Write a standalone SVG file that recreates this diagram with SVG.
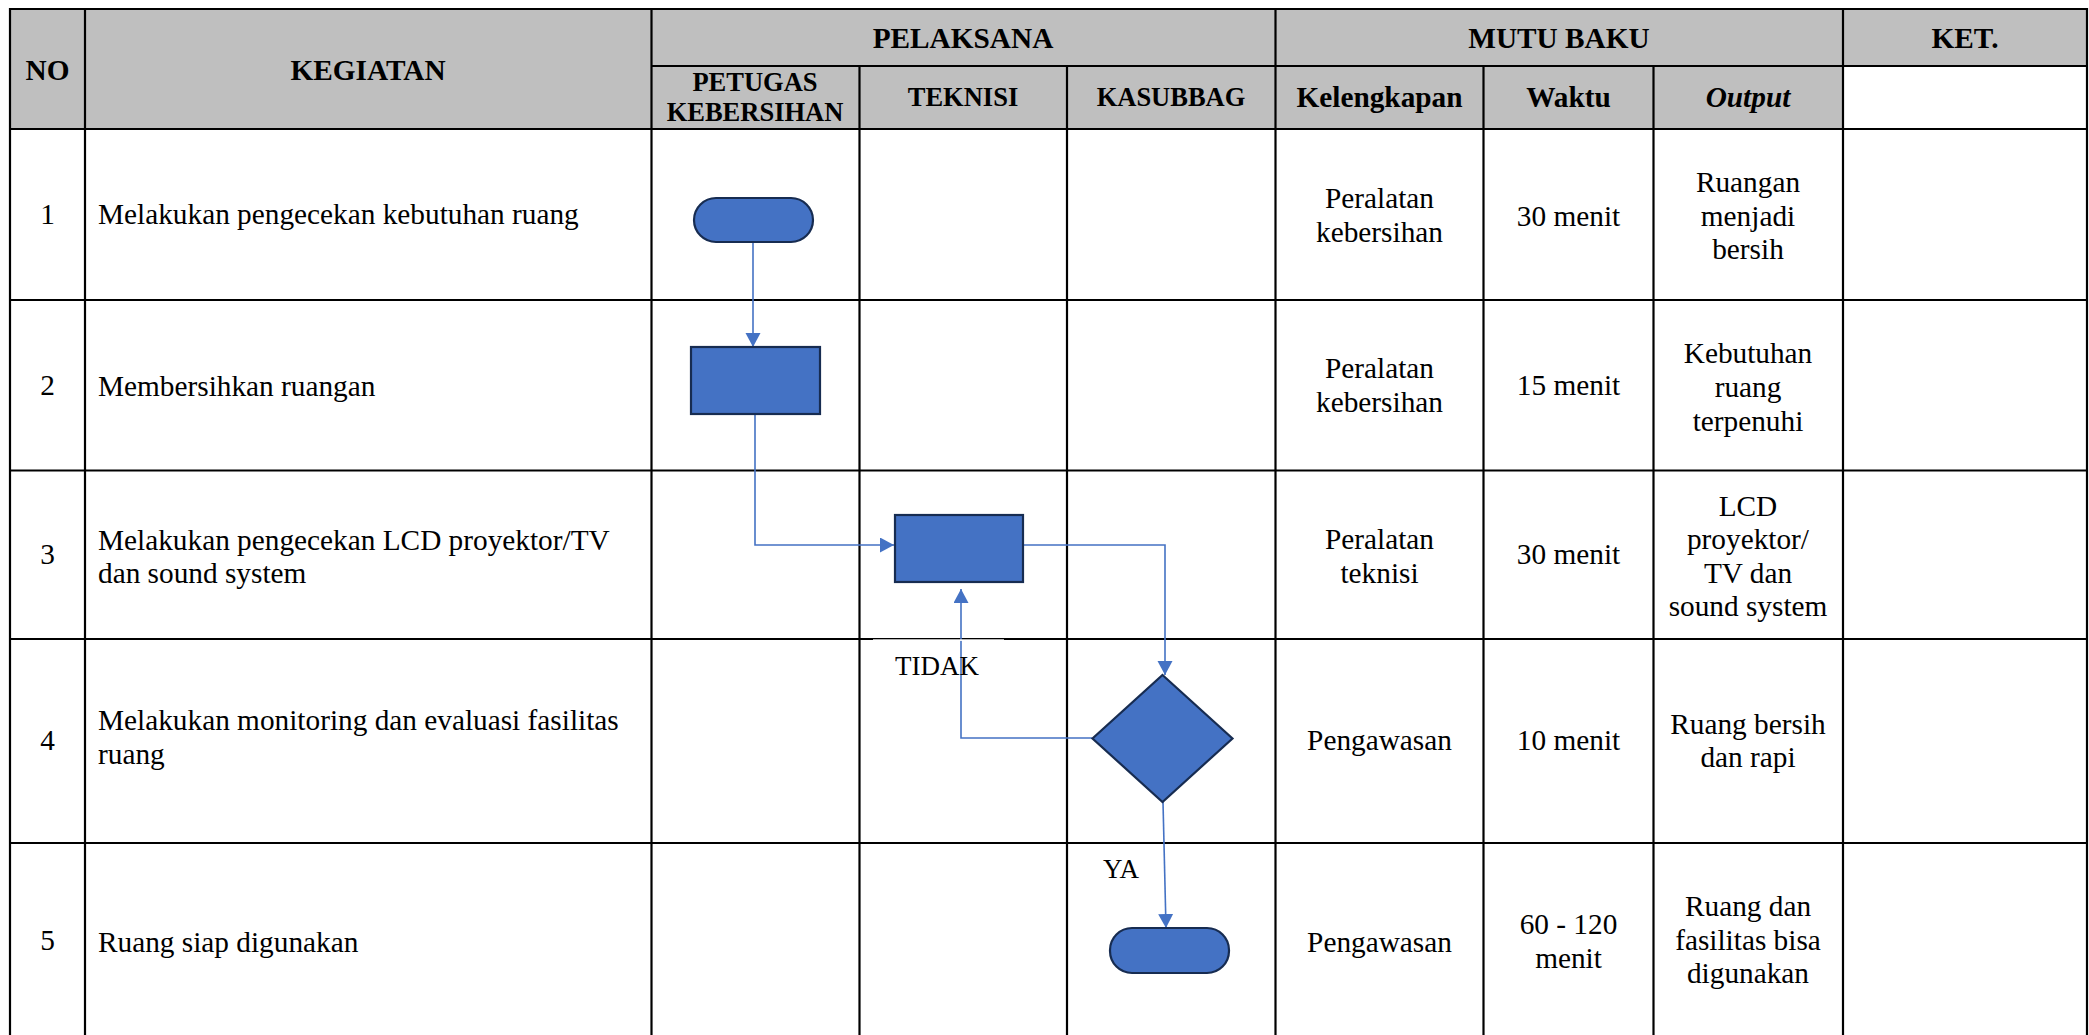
<svg xmlns="http://www.w3.org/2000/svg" width="2089" height="1035" viewBox="0 0 2089 1035">
<defs>
<style>
.t{font-family:"Liberation Serif","Times New Roman",serif;font-size:29.3px;fill:#000}
.s{font-family:"Liberation Serif","Times New Roman",serif;font-size:27px;fill:#000}
.h{font-family:"Liberation Serif","Times New Roman",serif;font-size:29.3px;font-weight:bold;fill:#000}
.h2{font-family:"Liberation Serif","Times New Roman",serif;font-size:26.5px;font-weight:bold;fill:#000}
.c{text-anchor:middle}
.grid line{stroke:#000;stroke-width:2.2}
.shape{fill:#4472C4;stroke:#172C51;stroke-width:2.2}
.conn{fill:none;stroke:#4472C4;stroke-width:1.6}
</style>
<marker id="ah" markerUnits="userSpaceOnUse" markerWidth="15" markerHeight="16" refX="14" refY="7.5" orient="auto">
<path d="M0,0 L14,7.5 L0,15 Z" fill="#4472C4"/>
</marker>
</defs>
<rect width="2089" height="1035" fill="#fff"/>
<g id="header-bg">
<rect x="10" y="9" width="1833" height="120" fill="#BFBFBF"/>
<rect x="1843" y="9" width="244" height="57" fill="#BFBFBF"/>
</g>
<g class="grid" id="grid">
<line x1="9" y1="9" x2="2088" y2="9"/>
<line x1="651.5" y1="66" x2="2088" y2="66"/>
<line x1="9" y1="129" x2="2088" y2="129"/>
<line x1="9" y1="300" x2="2088" y2="300"/>
<line x1="9" y1="470.5" x2="2088" y2="470.5"/>
<line x1="9" y1="639" x2="2088" y2="639"/>
<line x1="9" y1="843" x2="2088" y2="843"/>
<line x1="10" y1="8" x2="10" y2="1035"/>
<line x1="85" y1="8" x2="85" y2="1035"/>
<line x1="651.5" y1="8" x2="651.5" y2="1035"/>
<line x1="859.5" y1="66" x2="859.5" y2="1035"/>
<line x1="1067" y1="66" x2="1067" y2="1035"/>
<line x1="1275.5" y1="8" x2="1275.5" y2="1035"/>
<line x1="1483.5" y1="66" x2="1483.5" y2="1035"/>
<line x1="1653.5" y1="66" x2="1653.5" y2="1035"/>
<line x1="1843" y1="8" x2="1843" y2="1035"/>
<line x1="2087" y1="8" x2="2087" y2="1035"/>
</g>
<g id="header-text">
<text class="h c" x="47.5" y="80">NO</text>
<text class="h c" x="368" y="80">KEGIATAN</text>
<text class="h c" x="963" y="48">PELAKSANA</text>
<text class="h c" x="1559" y="48">MUTU BAKU</text>
<text class="h c" x="1965" y="48">KET.</text>
<text class="h2 c" x="755" y="91">PETUGAS</text>
<text class="h2 c" x="755" y="121">KEBERSIHAN</text>
<text class="h2 c" x="963" y="106">TEKNISI</text>
<text class="h2 c" x="1171" y="106">KASUBBAG</text>
<text class="h c" x="1379.5" y="107">Kelengkapan</text>
<text class="h c" x="1568.5" y="107">Waktu</text>
<text class="h c" x="1748" y="107" font-style="italic">Output</text>
</g>
<g id="rows-text">
<text class="t c" x="47.5" y="224">1</text>
<text class="t" x="98" y="224">Melakukan pengecekan kebutuhan ruang</text>
<text class="t c" x="1379.5" y="208">Peralatan</text>
<text class="t c" x="1379.5" y="242">kebersihan</text>
<text class="t c" x="1568.5" y="226">30 menit</text>
<text class="t c" x="1748" y="192">Ruangan</text>
<text class="t c" x="1748" y="226">menjadi</text>
<text class="t c" x="1748" y="259">bersih</text>

<text class="t c" x="47.5" y="395">2</text>
<text class="t" x="98" y="396">Membersihkan ruangan</text>
<text class="t c" x="1379.5" y="378">Peralatan</text>
<text class="t c" x="1379.5" y="412">kebersihan</text>
<text class="t c" x="1568.5" y="395">15 menit</text>
<text class="t c" x="1748" y="363">Kebutuhan</text>
<text class="t c" x="1748" y="397">ruang</text>
<text class="t c" x="1748" y="431">terpenuhi</text>

<text class="t c" x="47.5" y="564">3</text>
<text class="t" x="98" y="550">Melakukan pengecekan LCD proyektor/TV</text>
<text class="t" x="98" y="583">dan sound system</text>
<text class="t c" x="1379.5" y="549">Peralatan</text>
<text class="t c" x="1379.5" y="583">teknisi</text>
<text class="t c" x="1568.5" y="564">30 menit</text>
<text class="t c" x="1748" y="516">LCD</text>
<text class="t c" x="1748" y="549">proyektor/</text>
<text class="t c" x="1748" y="583">TV dan</text>
<text class="t c" x="1748" y="616">sound system</text>

<text class="t c" x="47.5" y="750">4</text>
<text class="t" x="98" y="730">Melakukan monitoring dan evaluasi fasilitas</text>
<text class="t" x="98" y="764">ruang</text>
<text class="t c" x="1379.5" y="750">Pengawasan</text>
<text class="t c" x="1568.5" y="750">10 menit</text>
<text class="t c" x="1748" y="734">Ruang bersih</text>
<text class="t c" x="1748" y="767">dan rapi</text>

<text class="t c" x="47.5" y="950">5</text>
<text class="t" x="98" y="952">Ruang siap digunakan</text>
<text class="t c" x="1379.5" y="952">Pengawasan</text>
<text class="t c" x="1568.5" y="934">60 - 120</text>
<text class="t c" x="1568.5" y="968">menit</text>
<text class="t c" x="1748" y="916">Ruang dan</text>
<text class="t c" x="1748" y="950">fasilitas bisa</text>
<text class="t c" x="1748" y="983">digunakan</text>
</g>
<g id="connectors">
<path class="conn" d="M753,242 L753,347" marker-end="url(#ah)"/>
<path class="conn" d="M755,414 L755,545 L894,545" marker-end="url(#ah)"/>
<path class="conn" d="M1023,545 L1165,545 L1165,675" marker-end="url(#ah)"/>
<path class="conn" d="M1092,738 L961,738 L961,589" marker-end="url(#ah)"/>
<path class="conn" d="M1163,802 L1166,928" marker-end="url(#ah)"/>
</g>
<g id="label-tidak">
<rect x="873" y="639.3" width="131" height="1.6" fill="#fff"/>
<text class="s" x="895" y="675">TIDAK</text>
</g>
<g id="label-ya">
<text class="s" x="1103" y="878">YA</text>
</g>
<g id="node-start"><rect class="shape" x="694" y="198" width="119" height="44" rx="22"/></g>
<g id="node-bersihkan"><rect class="shape" x="691" y="347" width="129" height="67"/></g>
<g id="node-cek-lcd"><rect class="shape" x="895" y="515" width="128" height="67"/></g>
<g id="node-monev"><polygon class="shape" points="1162.5,675 1232.5,738.5 1162.5,802 1092.5,738.5"/></g>
<g id="node-end"><rect class="shape" x="1110" y="928" width="119" height="45" rx="22"/></g>
</svg>
